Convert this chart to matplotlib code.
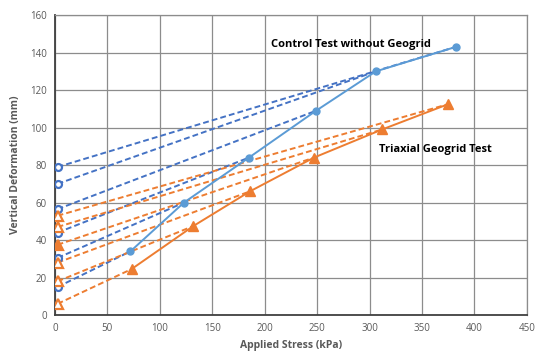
import matplotlib
matplotlib.use('Agg')
import matplotlib.pyplot as plt

# control test (no geogrid) - loading curve
ctrl_x = [72, 123, 185, 249, 306, 382]
ctrl_y = [34, 60, 84, 109, 130, 143]
# triaxial geogrid test - loading curve
tri_x = [73, 132, 186, 247, 312, 375]
tri_y = [24.5, 47.5, 66, 84, 99, 112.5]
# unloading intercepts (residual deformation) at near-zero stress
ctrl_res_x = 2.5
ctrl_res_y = [15, 30.5, 44, 56.5, 70, 79]
tri_res_x = 2.5
tri_res_y = [6, 18, 28, 37.5, 47, 53]

blue = '#5B9BD5'
dblue = '#4472C4'
orange = '#ED7D31'
gray = '#595959'

plt.rcParams['font.family'] = ['Open Sans', 'DejaVu Sans']
fig = plt.figure(figsize=(5.37, 3.52), dpi=100)
ax = fig.add_axes([0.1024, 0.105, 0.8786, 0.852])

# dashed unloading lines
for i in range(len(ctrl_x)):
    ax.plot([ctrl_res_x, ctrl_x[i]], [ctrl_res_y[i], ctrl_y[i]], '--', color=dblue,
            lw=1.4, dashes=(3, 1.6), zorder=3)
    ax.plot(ctrl_res_x, ctrl_res_y[i], 'o', ms=5, mfc='white', mec=dblue, mew=1.6, zorder=5)
for i in range(len(tri_x)):
    ax.plot([tri_res_x, tri_x[i]], [tri_res_y[i], tri_y[i]], '--', color=orange,
            lw=1.4, dashes=(3, 1.6), zorder=3)
    fc = orange if i == 3 else 'white'
    ax.plot(tri_res_x, tri_res_y[i], '^', ms=7, mfc=fc, mec=orange, mew=1.6, zorder=5)

ax.plot(ctrl_x, ctrl_y, '-o', color=blue, lw=1.4, ms=5, zorder=4)
ax.plot(tri_x, tri_y, '-^', color=orange, lw=1.4, ms=7, zorder=4)

ax.text(206, 144.5, 'Control Test without Geogrid', fontsize=8, fontweight='bold',
        color='black', va='center')
ax.text(309, 88.5, 'Triaxial Geogrid Test', fontsize=8, fontweight='bold',
        color='black', va='center')

ax.set_xlim(0, 450)
ax.set_ylim(0, 160)
ax.set_xticks(range(0, 451, 50))
ax.set_yticks(range(0, 161, 20))
ax.grid(True, color='#8c8c8c', lw=0.9)
ax.set_axisbelow(True)
ax.tick_params(length=0, labelsize=7, colors=gray, pad=6)
for s in ['top', 'right']:
    ax.spines[s].set_color('#8c8c8c')
    ax.spines[s].set_linewidth(0.9)
for s in ['left', 'bottom']:
    ax.spines[s].set_color('#404040')
    ax.spines[s].set_linewidth(1.3)

ax.set_xlabel('Applied Stress (kPa)', fontsize=7.5, fontweight='bold', color=gray, labelpad=4)
ax.set_ylabel('Vertical Deformation (mm)', fontsize=7.5, fontweight='bold', color=gray, labelpad=6)

fig.savefig('out.png', dpi=100)
